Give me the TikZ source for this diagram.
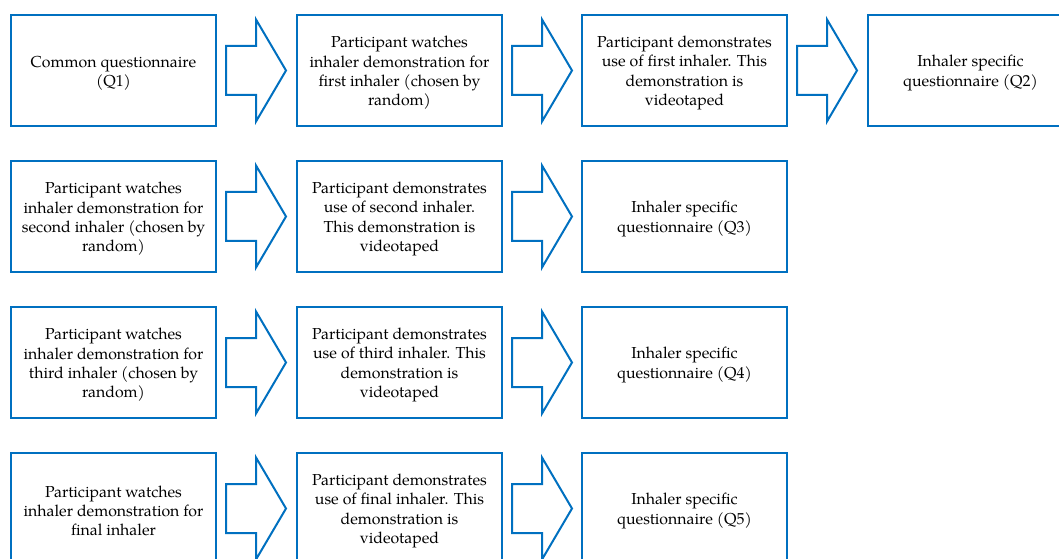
\documentclass[tikz,border=0pt]{standalone}
\usepackage{fontspec}
\setmainfont{TeX Gyre Pagella}
\usetikzlibrary{calc}
\definecolor{boxblue}{RGB}{0,112,192}
\tikzset{
  stepbox/.style={draw=boxblue, line width=1.5pt, fill=white, outer sep=0pt, inner sep=0pt,
    minimum width=205*0.75pt, minimum height=111*0.75pt},
  steptext/.style={align=center, inner sep=0pt, font=\fontsize{11.9}{14.5}\selectfont},
  blockarrow/.style={draw=boxblue, line width=1.5pt, line join=miter, fill=white}
}
\newcommand{\barrow}[1]{%
  \draw[blockarrow] ($(#1.east)+(10,-24.5)$) -- ($(#1.east)+(40,-24.5)$) -- ($(#1.east)+(40,-51)$)
    -- ($(#1.east)+(70,0)$) -- ($(#1.east)+(40,51)$) -- ($(#1.east)+(40,24.5)$)
    -- ($(#1.east)+(10,24.5)$) -- cycle;}
\newcommand{\stepnode}[3]{%
  \node[stepbox] (#1) at #2 {};
  \node[steptext] (#1t) at ($(#1.center)+(0,2.5)$) {#3};}
\begin{document}
\begin{tikzpicture}[x=0.75pt,y=-0.75pt]
\useasboundingbox (0,0) rectangle (1059,559);
% row 1
\stepnode{a1}{(113.5,70.5)}{Common questionnaire\\(Q1)}
\stepnode{a2}{(399.5,70.5)}{Participant watches\\inhaler demonstration for\\first inhaler (chosen by\\random)}
\stepnode{a3}{(684.5,70.5)}{Participant demonstrates\\use of first inhaler. This\\demonstration is\\videotaped}
\stepnode{a4}{(970.5,70.5)}{Inhaler specific\\questionnaire (Q2)}
% row 2
\stepnode{b1}{(113.5,216.5)}{Participant watches\\inhaler demonstration for\\second inhaler (chosen by\\random)}
\stepnode{b2}{(399.5,216.5)}{Participant demonstrates\\use of second inhaler.\\This demonstration is\\videotaped}
\stepnode{b3}{(684.5,216.5)}{Inhaler specific\\questionnaire (Q3)}
% row 3
\stepnode{c1}{(113.5,362.5)}{Participant watches\\inhaler demonstration for\\third inhaler (chosen by\\random)}
\stepnode{c2}{(399.5,362.5)}{Participant demonstrates\\use of third inhaler. This\\demonstration is\\videotaped}
\stepnode{c3}{(684.5,362.5)}{Inhaler specific\\questionnaire (Q4)}
% row 4
\stepnode{d1}{(113.5,508.5)}{Participant watches\\inhaler demonstration for\\final inhaler}
\stepnode{d2}{(399.5,508.5)}{Participant demonstrates\\use of final inhaler. This\\demonstration is\\videotaped}
\stepnode{d3}{(684.5,508.5)}{Inhaler specific\\questionnaire (Q5)}
% arrows
\barrow{a1}\barrow{a2}\barrow{a3}
\barrow{b1}\barrow{b2}
\barrow{c1}\barrow{c2}
\barrow{d1}\barrow{d2}
\end{tikzpicture}
\end{document}
